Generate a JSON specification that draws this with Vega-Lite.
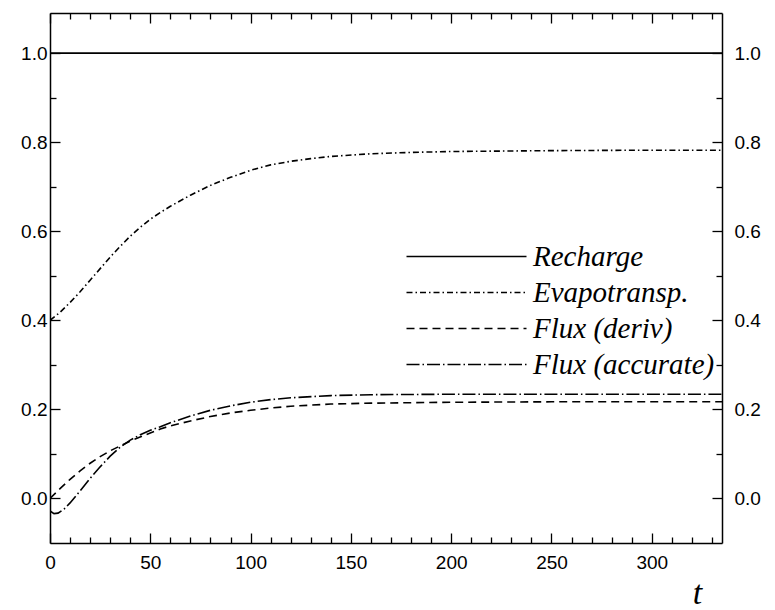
{
  "$schema": "https://vega.github.io/schema/vega-lite/v6.json",
  "autosize": "none",
  "width": 672,
  "height": 530,
  "padding": {"left": 50, "top": 13, "right": 53, "bottom": 67},
  "background": "white",
  "config": {
    "view": {"stroke": null},
    "axis": {
      "domainColor": "black",
      "domainWidth": 1.5,
      "tickColor": "black",
      "tickWidth": 1.3,
      "grid": false,
      "labelFont": "Liberation Sans",
      "labelFontSize": 19,
      "labelColor": "black",
      "labelOverlap": false,
      "labelFlush": false,
      "title": null
    }
  },
  "data": {
    "values": [
      {"t": 0, "v": 1.0, "series": "Recharge"},
      {"t": 100, "v": 1.0, "series": "Recharge"},
      {"t": 200, "v": 1.0, "series": "Recharge"},
      {"t": 335, "v": 1.0, "series": "Recharge"},

      {"t": 0, "v": 0.400, "series": "Evapotransp."},
      {"t": 5, "v": 0.418, "series": "Evapotransp."},
      {"t": 10, "v": 0.440, "series": "Evapotransp."},
      {"t": 15, "v": 0.464, "series": "Evapotransp."},
      {"t": 20, "v": 0.490, "series": "Evapotransp."},
      {"t": 25, "v": 0.516, "series": "Evapotransp."},
      {"t": 30, "v": 0.542, "series": "Evapotransp."},
      {"t": 35, "v": 0.566, "series": "Evapotransp."},
      {"t": 40, "v": 0.589, "series": "Evapotransp."},
      {"t": 45, "v": 0.609, "series": "Evapotransp."},
      {"t": 50, "v": 0.627, "series": "Evapotransp."},
      {"t": 55, "v": 0.642, "series": "Evapotransp."},
      {"t": 60, "v": 0.656, "series": "Evapotransp."},
      {"t": 70, "v": 0.681, "series": "Evapotransp."},
      {"t": 80, "v": 0.703, "series": "Evapotransp."},
      {"t": 90, "v": 0.721, "series": "Evapotransp."},
      {"t": 100, "v": 0.737, "series": "Evapotransp."},
      {"t": 110, "v": 0.749, "series": "Evapotransp."},
      {"t": 120, "v": 0.757, "series": "Evapotransp."},
      {"t": 130, "v": 0.763, "series": "Evapotransp."},
      {"t": 140, "v": 0.768, "series": "Evapotransp."},
      {"t": 160, "v": 0.774, "series": "Evapotransp."},
      {"t": 180, "v": 0.777, "series": "Evapotransp."},
      {"t": 200, "v": 0.779, "series": "Evapotransp."},
      {"t": 250, "v": 0.781, "series": "Evapotransp."},
      {"t": 300, "v": 0.782, "series": "Evapotransp."},
      {"t": 335, "v": 0.782, "series": "Evapotransp."},

      {"t": 0, "v": 0.000, "series": "Flux (deriv)"},
      {"t": 5, "v": 0.022, "series": "Flux (deriv)"},
      {"t": 10, "v": 0.043, "series": "Flux (deriv)"},
      {"t": 15, "v": 0.062, "series": "Flux (deriv)"},
      {"t": 20, "v": 0.079, "series": "Flux (deriv)"},
      {"t": 25, "v": 0.094, "series": "Flux (deriv)"},
      {"t": 30, "v": 0.107, "series": "Flux (deriv)"},
      {"t": 40, "v": 0.129, "series": "Flux (deriv)"},
      {"t": 50, "v": 0.147, "series": "Flux (deriv)"},
      {"t": 55, "v": 0.156, "series": "Flux (deriv)"},
      {"t": 60, "v": 0.163, "series": "Flux (deriv)"},
      {"t": 70, "v": 0.174, "series": "Flux (deriv)"},
      {"t": 80, "v": 0.184, "series": "Flux (deriv)"},
      {"t": 90, "v": 0.192, "series": "Flux (deriv)"},
      {"t": 100, "v": 0.198, "series": "Flux (deriv)"},
      {"t": 110, "v": 0.203, "series": "Flux (deriv)"},
      {"t": 120, "v": 0.207, "series": "Flux (deriv)"},
      {"t": 140, "v": 0.212, "series": "Flux (deriv)"},
      {"t": 160, "v": 0.214, "series": "Flux (deriv)"},
      {"t": 200, "v": 0.216, "series": "Flux (deriv)"},
      {"t": 250, "v": 0.217, "series": "Flux (deriv)"},
      {"t": 300, "v": 0.217, "series": "Flux (deriv)"},
      {"t": 335, "v": 0.217, "series": "Flux (deriv)"},

      {"t": 0, "v": -0.028, "series": "Flux (accurate)"},
      {"t": 2, "v": -0.034, "series": "Flux (accurate)"},
      {"t": 4, "v": -0.033, "series": "Flux (accurate)"},
      {"t": 7, "v": -0.024, "series": "Flux (accurate)"},
      {"t": 10, "v": -0.010, "series": "Flux (accurate)"},
      {"t": 15, "v": 0.017, "series": "Flux (accurate)"},
      {"t": 20, "v": 0.045, "series": "Flux (accurate)"},
      {"t": 25, "v": 0.071, "series": "Flux (accurate)"},
      {"t": 30, "v": 0.095, "series": "Flux (accurate)"},
      {"t": 35, "v": 0.115, "series": "Flux (accurate)"},
      {"t": 40, "v": 0.131, "series": "Flux (accurate)"},
      {"t": 45, "v": 0.143, "series": "Flux (accurate)"},
      {"t": 50, "v": 0.153, "series": "Flux (accurate)"},
      {"t": 55, "v": 0.161, "series": "Flux (accurate)"},
      {"t": 60, "v": 0.170, "series": "Flux (accurate)"},
      {"t": 70, "v": 0.185, "series": "Flux (accurate)"},
      {"t": 80, "v": 0.198, "series": "Flux (accurate)"},
      {"t": 90, "v": 0.208, "series": "Flux (accurate)"},
      {"t": 100, "v": 0.216, "series": "Flux (accurate)"},
      {"t": 110, "v": 0.222, "series": "Flux (accurate)"},
      {"t": 120, "v": 0.226, "series": "Flux (accurate)"},
      {"t": 140, "v": 0.231, "series": "Flux (accurate)"},
      {"t": 160, "v": 0.233, "series": "Flux (accurate)"},
      {"t": 200, "v": 0.234, "series": "Flux (accurate)"},
      {"t": 250, "v": 0.234, "series": "Flux (accurate)"},
      {"t": 300, "v": 0.234, "series": "Flux (accurate)"},
      {"t": 335, "v": 0.234, "series": "Flux (accurate)"}
    ]
  },
  "layer": [
    {
      "mark": {"type": "line", "color": "black", "strokeWidth": 1.6, "clip": true},
      "encoding": {
        "x": {
          "field": "t",
          "type": "quantitative",
          "scale": {"domain": [0, 335], "nice": false, "zero": false},
          "axis": {
            "orient": "bottom",
            "title": "t",
            "titleFont": "Liberation Serif",
            "titleFontStyle": "italic",
            "titleFontWeight": "normal",
            "titleFontSize": 34,
            "titleX": 647,
            "titleY": 60,
            "titleAlign": "center",
            "titleBaseline": "alphabetic",
            "values": [0, 50, 100, 150, 200, 250, 300],
            "tickSize": -10,
            "labelPadding": 20
          }
        },
        "y": {
          "field": "v",
          "type": "quantitative",
          "scale": {"domain": [-0.1, 1.09], "nice": false, "zero": false},
          "axis": {
            "orient": "left",
            "values": [0, 0.2, 0.4, 0.6, 0.8, 1.0],
            "format": ".1f",
            "tickSize": -10,
            "labelPadding": 13
          }
        },
        "strokeDash": {
          "field": "series",
          "type": "nominal",
          "scale": {
            "domain": ["Recharge", "Evapotransp.", "Flux (deriv)", "Flux (accurate)"],
            "range": [[1, 0], [6, 3, 1.5, 3], [8, 5], [13, 3, 1.5, 3]]
          },
          "legend": {
            "title": null,
            "orient": "none",
            "legendX": 402,
            "legendY": 229,
            "direction": "vertical",
            "symbolType": "M-10,0H10",
            "symbolSize": 144,
            "symbolStrokeColor": "black",
            "symbolStrokeWidth": 1.5,
            "labelFont": "Liberation Serif",
            "labelFontStyle": "italic",
            "labelFontSize": 29,
            "labelColor": "black",
            "labelOffset": 52,
            "rowPadding": 6,
            "labelLimit": 400
          }
        }
      }
    },
    {
      "mark": {"type": "line", "opacity": 0},
      "encoding": {
        "x": {
          "field": "t",
          "type": "quantitative",
          "axis": {
            "orient": "top",
            "values": [0, 50, 100, 150, 200, 250, 300],
            "labels": false,
            "tickSize": -10
          }
        },
        "y": {
          "field": "v",
          "type": "quantitative",
          "axis": {
            "orient": "right",
            "values": [0, 0.2, 0.4, 0.6, 0.8, 1.0],
            "format": ".1f",
            "tickSize": -10,
            "labelPadding": 22
          }
        },
        "detail": {"field": "series", "type": "nominal"}
      }
    },
    {
      "mark": {"type": "line", "opacity": 0},
      "encoding": {
        "x": {
          "field": "t",
          "type": "quantitative",
          "axis": {
            "orient": "bottom",
            "domain": false,
            "labels": false,
            "values": [10,20,30,40,60,70,80,90,110,120,130,140,160,170,180,190,210,220,230,240,260,270,280,290,310,320,330],
            "tickSize": -6
          }
        },
        "y": {
          "field": "v",
          "type": "quantitative",
          "axis": {
            "orient": "left",
            "domain": false,
            "labels": false,
            "values": [0.1, 0.3, 0.5, 0.7, 0.9],
            "tickSize": -6
          }
        },
        "detail": {"field": "series", "type": "nominal"}
      }
    },
    {
      "mark": {"type": "line", "opacity": 0},
      "encoding": {
        "x": {
          "field": "t",
          "type": "quantitative",
          "axis": {
            "orient": "top",
            "domain": false,
            "labels": false,
            "values": [10,20,30,40,60,70,80,90,110,120,130,140,160,170,180,190,210,220,230,240,260,270,280,290,310,320,330],
            "tickSize": -6
          }
        },
        "y": {
          "field": "v",
          "type": "quantitative",
          "axis": {
            "orient": "right",
            "domain": false,
            "labels": false,
            "values": [0.1, 0.3, 0.5, 0.7, 0.9],
            "tickSize": -6
          }
        },
        "detail": {"field": "series", "type": "nominal"}
      }
    }
  ],
  "resolve": {"scale": {"x": "shared", "y": "shared"}, "axis": {"x": "independent", "y": "independent"}}
}
